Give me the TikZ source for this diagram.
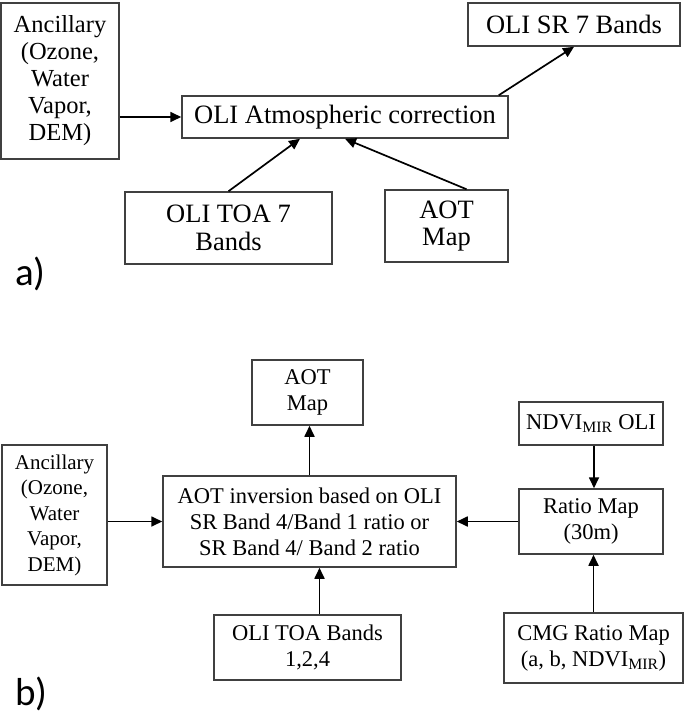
\documentclass[tikz,border=0pt]{standalone}
\usepackage{fontspec}
\setmainfont{Liberation Serif}
\newfontfamily\panelfont{Carlito}
\usetikzlibrary{arrows.meta}

\begin{document}
\begin{tikzpicture}[
    x=1pt, y=-1pt,
    procbox/.style={draw=black!75, line width=1.5pt, inner sep=0pt, align=center},
    bigtxt/.style={font=\fontsize{26.5}{27.5}\selectfont},
    smalltxt/.style={font=\fontsize{22.5}{26}\selectfont},
    anctxt/.style={font=\fontsize{21}{25.5}\selectfont},
    flow/.style={-{Triangle[length=11pt,width=10pt]}, line width=1.7pt},
    panel/.style={font=\panelfont\fontsize{39}{39}\selectfont, anchor=base west, inner sep=0pt},
]
\useasboundingbox (0,0) rectangle (684,717);

% Panel a: atmospheric correction
\node[procbox, font=\fontsize{24.5}{27}\selectfont, minimum width=118, minimum height=156] (ancA) at (60,81)
    {Ancillary\\(Ozone,\\Water\\Vapor,\\DEM)};
\node[procbox, bigtxt, minimum width=326, minimum height=42] (atm) at (345,117)
    {OLI Atmospheric correction};
\node[procbox, bigtxt, minimum width=212, minimum height=43] (srA) at (574,24.5)
    {OLI SR 7 Bands};
\node[procbox, bigtxt, minimum width=207, minimum height=72] (toaA) at (228.5,228)
    {OLI TOA 7\\Bands};
\node[procbox, bigtxt, minimum width=123, minimum height=72] (aotA) at (446.5,226)
    {AOT\\Map};

\draw[flow] (atm.west -| ancA.east) -- (atm.west);
\draw[flow] (toaA.north) -- ([xshift=-45pt]atm.south);
\draw[flow] ([xshift=20pt]aotA.north) -- (atm.south);
\draw[flow] ([xshift=-10pt]atm.north east) -- (srA.south);

\node[panel] (labA) at (15,285) {a)};

% Panel b: AOT inversion
\node[procbox, smalltxt, minimum width=111, minimum height=65] (aotB) at (307.5,392.5)
    {AOT\\Map};
\node[procbox, anctxt, minimum width=105, minimum height=140] (ancB) at (54.5,515)
    {Ancillary\\(Ozone,\\Water\\Vapor,\\DEM)};
\node[procbox, smalltxt, minimum width=293, minimum height=91] (inv) at (309.5,521.5)
    {AOT inversion based on OLI\\SR Band 4/Band 1 ratio or\\SR Band 4/ Band 2 ratio};
\node[procbox, smalltxt, minimum width=187, minimum height=65] (toaB) at (307.5,647.5)
    {OLI TOA Bands\\1,2,4};
\node[procbox, smalltxt, minimum width=144, minimum height=43] (ndvi) at (591,423.5)
    {NDVI\textsubscript{MIR} OLI};
\node[procbox, smalltxt, minimum width=144, minimum height=65] (ratio) at (591,521.5)
    {Ratio Map\\(30m)};
\node[procbox, smalltxt, minimum width=179, minimum height=70] (cmg) at (593.5,648)
    {CMG Ratio Map\\(a, b, NDVI\textsubscript{MIR})};

\draw[flow] (inv.north) -- (inv.north |- aotB.south);
\draw[flow] (inv.west -| ancB.east) -- (inv.west);
\draw[flow] ([xshift=12pt]toaB.north) -- ([xshift=12pt]toaB.north |- inv.south);
\draw[flow] (ratio.west) -- (inv.east);
\draw[flow] ([xshift=3pt]ndvi.south) -- ([xshift=3pt]ratio.north);
\draw[flow] (cmg.north) -- (cmg.north |- ratio.south);

\node[panel] (labB) at (15,705) {b)};

\end{tikzpicture}
\end{document}
